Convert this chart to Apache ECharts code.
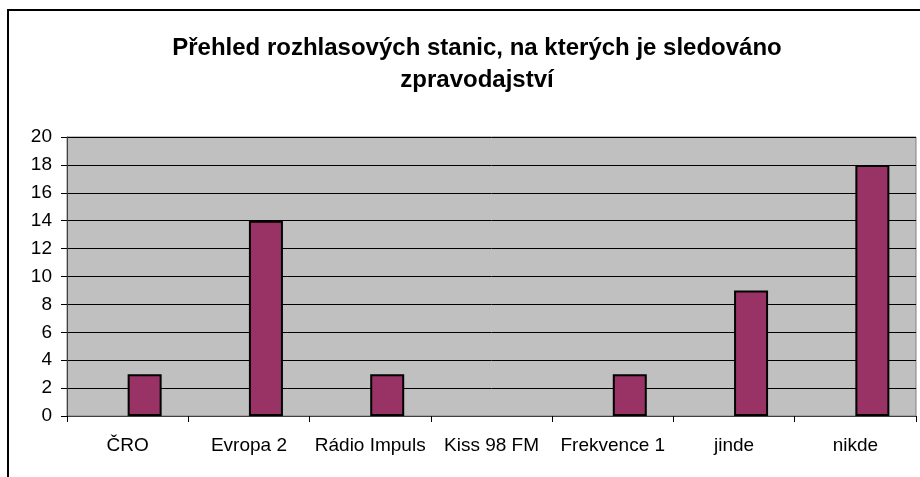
<!DOCTYPE html>
<html><head><meta charset="utf-8">
<script src="https://cdn.jsdelivr.net/npm/echarts@6/dist/echarts.min.js"></script>
<style>html,body{margin:0;padding:0;background:#fff}#c{width:920px;height:477px}</style>
</head><body><div id="c"></div>
<script>
const categories = ['ČRO', 'Evropa 2', 'Rádio Impuls', 'Kiss 98 FM', 'Frekvence 1', 'jinde', 'nikde'];
const values = [3, 14, 3, 0, 3, 9, 18];
const emptySeries = [null, null, null, null, null, null, null];
const yTicks = [0, 2, 4, 6, 8, 10, 12, 14, 16, 18, 20];
const titleText = 'Přehled rozhlasových stanic, na kterých je sledováno\nzpravodajství';

const font = 'Liberation Sans, Arial, sans-serif';
const chart = echarts.init(document.getElementById('c'), null, {renderer: 'canvas'});
chart.setOption({
  animation: false,
  backgroundColor: '#fff',
  graphic: [{
    type: 'rect', shape: {x: 8, y: 10, width: 1000, height: 1000},
    style: {fill: 'none', stroke: '#000', lineWidth: 2}, z: 0
  }],
  title: {
    text: titleText, left: 472, top: 27, textAlign: 'center',
    textStyle: {fontFamily: font, fontWeight: 'bold', fontSize: 24, color: '#000', lineHeight: 32}
  },
  grid: {left: 67, top: 137, right: 4, bottom: 61, backgroundColor: '#c0c0c0', show: true, borderColor: '#808080', borderWidth: 1},
  xAxis: {
    type: 'category', data: categories,
    axisLine: {show: true, lineStyle: {color: '#404040'}},
    axisTick: {show: true, alignWithLabel: false, length: 6, lineStyle: {color: '#000'}},
    axisLabel: {color: '#000', fontFamily: font, fontSize: 19, margin: 20, interval: 0},
    splitLine: {show: false}
  },
  yAxis: {
    type: 'value', min: 0, max: 20, interval: 2,
    axisLine: {show: true, lineStyle: {color: '#404040'}},
    axisTick: {show: true, length: 6, lineStyle: {color: '#000'}},
    axisLabel: {color: '#000', fontFamily: font, fontSize: 19, margin: 15,
      formatter: v => yTicks.includes(v) ? String(v) : ''},
    splitLine: {show: true, lineStyle: {color: '#000', width: 1}}
  },
  series: [{
    type: 'bar', data: emptySeries, barWidth: 34, barGap: 0,
    itemStyle: {color: '#9999ff', borderColor: '#000', borderWidth: 2}
  }, {
    type: 'bar', data: values.map(v => ({value: v, itemStyle: v === 0 ? {borderWidth: 0} : {}})),
    barWidth: 34, barGap: 0,
    itemStyle: {color: '#993366', borderColor: '#000', borderWidth: 2}
  }]
});
</script></body></html>
